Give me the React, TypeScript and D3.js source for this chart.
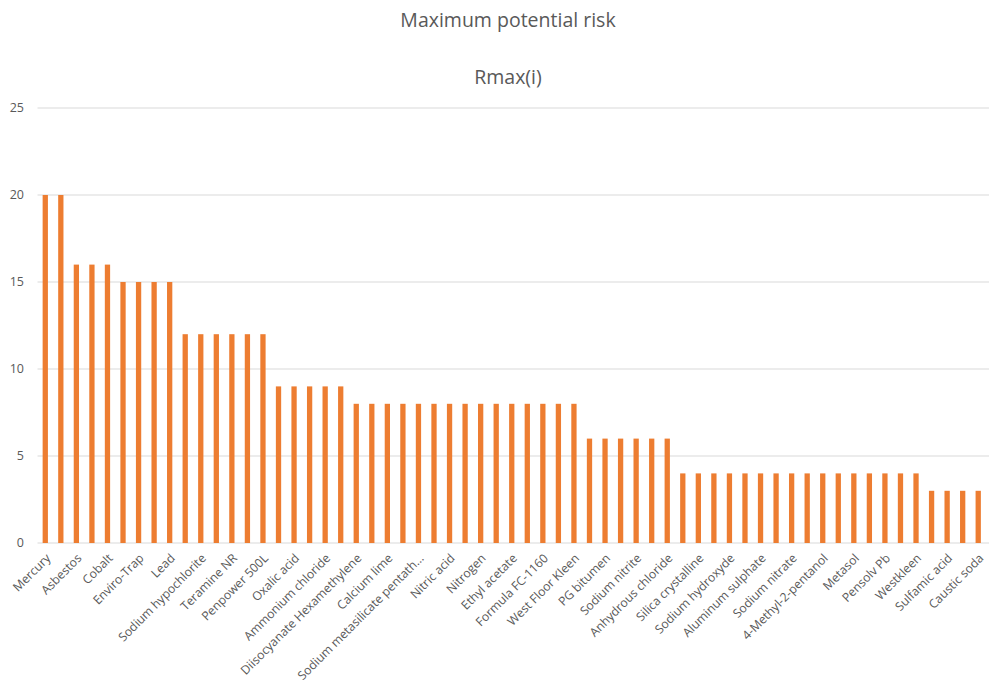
import React from "react";
import * as d3 from "d3";

const categories: string[] = [
  "Mercury", "Arsenic", "Asbestos", "Benzene", "Cobalt", "Chromium", "Enviro-Trap", "Formaldehyde", "Lead", "Ammonia",
  "Sodium hypochlorite", "Hydrochloric acid", "Teramine NR", "Sulfuric acid", "Penpower  500L", "Acetone",
  "Oxalic acid", "Phosphoric acid", "Ammonium chloride", "Toluene", "Diisocyanate Hexamethylene", "Xylene",
  "Calcium lime", "Isopropanol", "Sodium metasilicate pentath...", "Methanol", "Nitric acid", "Ethanol",
  "Nitrogen", "Argon", "Ethyl acetate", "Butyl acetate", "Formula FC-1160", "Glycol ether",
  "West Floor Kleen", "Kerosene", "PG bitumen", "White spirit", "Sodium nitrite", "Potassium hydroxide",
  "Anhydrous chloride", "Calcium chloride", "Silica crystalline", "Talc", "Sodium hydroxyde", "Citric acid",
  "Aluminum sulphate", "Ferric chloride", "Sodium nitrate", "Zinc oxide", "4-Methyl-2-pentanol", "Propane",
  "Metasol", "Glycerol", "Pensolv Pb", "Degreaser X", "Westkleen", "Acetic acid", "Sulfamic acid",
  "Sodium carbonate", "Caustic soda",
];

const values: number[] = [
  20, 20, 16, 16, 16, 15, 15, 15, 15, 12,
  12, 12, 12, 12, 12, 9, 9, 9, 9, 9,
  8, 8, 8, 8, 8, 8, 8, 8, 8, 8,
  8, 8, 8, 8, 8, 6, 6, 6, 6, 6,
  6, 4, 4, 4, 4, 4, 4, 4, 4, 4,
  4, 4, 4, 4, 4, 4, 4, 3, 3, 3,
  3,
];

const yTicks: number[] = [0, 5, 10, 15, 20, 25];

const title = "Maximum potential risk";
const subtitle = "Rmax(i)";

export default function App() {
  const W = 990;
  const H = 684;
  const left = 37.5;
  const right = 986;
  const gridRight = 989;
  const top = 108;
  const bottom = 543;
  const font = "'Open Sans', sans-serif";
  const grey = "#595959";

  const x = d3.scaleBand<number>().domain(d3.range(categories.length)).range([left, right]).paddingInner(0.66).paddingOuter(0.33);
  const y = d3.scaleLinear().domain([0, 25]).range([bottom, top]);

  return (
    <svg width={W} height={H} style={{ position: "absolute", left: 0, top: 0, background: "#fff" }}>
      <text x={508} y={27} textAnchor="middle" fontFamily={font} fontSize={19.5} fill={grey}>{title}</text>
      <text x={508} y={84} textAnchor="middle" fontFamily={font} fontSize={19.5} fill={grey}>{subtitle}</text>
      {yTicks.map((t) => (
        <g key={t}>
          <line x1={left} x2={gridRight} y1={y(t)} y2={y(t)} stroke="#d9d9d9" strokeWidth={1} />
          <text x={24} y={y(t)} dy="0.35em" textAnchor="end" fontFamily={font} fontSize={12.5} fill={grey}>{t}</text>
        </g>
      ))}
      {values.map((v, i) => (
        <rect key={i} x={x(i)!} y={y(v)} width={x.bandwidth()} height={y(0) - y(v)} fill="#ED7D31" />
      ))}
      {categories.map((c, i) =>
        i % 2 === 0 ? (
          <text
            key={c}
            transform={`translate(${x(i)! + x.bandwidth() / 2 + 6},${bottom + 16}) rotate(-45)`}
            textAnchor="end"
            fontFamily={font}
            fontSize={12.2}
            fill={grey}
          >
            {c}
          </text>
        ) : null
      )}
    </svg>
  );
}
